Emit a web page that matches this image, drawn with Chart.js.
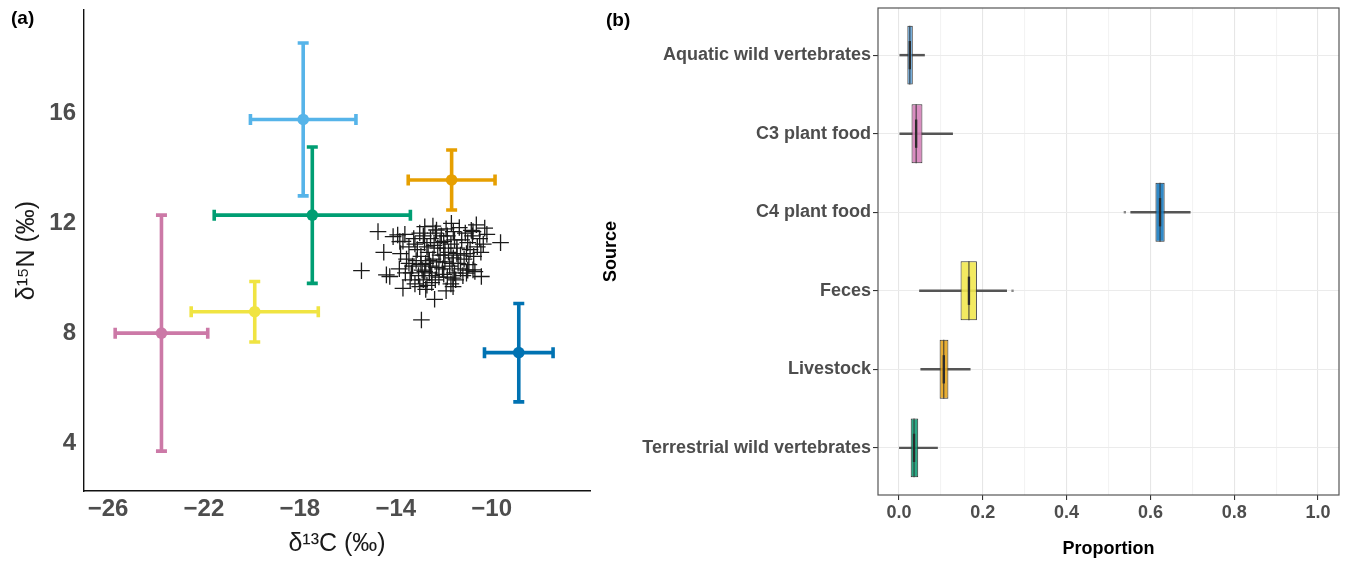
<!DOCTYPE html>
<html>
<head>
<meta charset="utf-8">
<script src="https://cdn.jsdelivr.net/npm/chart.js@4.4.1/dist/chart.umd.min.js"></script>
<style>
  html, body { margin: 0; padding: 0; background: #fff; }
  #wrap { position: relative; width: 1347px; height: 562px; }
  #left { position: absolute; left: 0; top: 0; width: 600px; height: 562px; }
  #right { position: absolute; left: 600px; top: 0; width: 747px; height: 562px; }
  .tag { position: absolute; font: bold 19px "Liberation Sans", Arial, sans-serif; color: #000; }
</style>
</head>
<body>
<div id="wrap">
  <div id="left"><canvas id="isoChart"></canvas></div>
  <div id="right"><canvas id="mixChart"></canvas></div>
  <div class="tag" style="left:11px; top:7px">(a)</div>
  <div class="tag" style="left:606px; top:9px">(b)</div>
</div>
<script>
// sources (same order in both panels)
const sourceNames = ["Aquatic wild vertebrates", "C3 plant food", "C4 plant food", "Feces", "Livestock", "Terrestrial wild vertebrates"];
const sourceColors = ["#56B4E9", "#CC79A7", "#0072B2", "#F0E442", "#E69F00", "#009E73"];
const boxColors = ["rgba(86,160,220,0.9)", "rgba(214,130,186,0.9)", "rgba(25,125,195,0.9)", "rgba(242,232,80,0.9)", "rgba(230,165,30,0.9)", "rgba(20,160,120,0.9)"];

// panel (a): source means and SDs
const srcC = [-17.86, -23.77, -8.87, -19.88, -11.67, -17.48];
const srcN = [15.78, 8.01, 7.30, 8.79, 13.58, 12.30];
const srcSdC = [2.20, 1.93, 1.43, 2.65, 1.81, 4.09];
const srcSdN = [2.78, 4.29, 1.79, 1.10, 1.09, 2.48];

// panel (a): consumers
const consC = [-14.74, -14.50, -15.43, -14.39, -14.25, -12.38, -12.93, -9.63, -10.43, -10.64,
  -10.29, -10.78, -11.68, -12.30, -12.79, -14.11, -13.83, -13.92, -13.70, -11.61,
  -11.61, -11.05, -10.78, -12.79, -13.62, -13.70, -13.45, -13.80, -13.55, -13.30,
  -13.60, -13.85, -13.40, -13.20, -13.05, -12.90, -12.75, -12.95, -13.10, -12.80,
  -12.55, -12.40, -12.65, -12.45, -12.30, -12.60, -12.85, -12.50, -12.20, -12.05,
  -11.95, -12.15, -12.25, -12.00, -11.85, -11.70, -11.80, -11.60, -11.75, -11.55,
  -11.40, -11.30, -11.45, -11.25, -11.10, -11.00, -10.90, -11.15, -10.95, -10.75,
  -10.60, -10.50, -10.80, -10.35, -10.45, -11.35, -11.90, -12.35, -12.85, -13.25,
  -13.15, -13.45, -13.00, -12.70, -11.70, -11.90, -11.50, -11.20, -10.70, -11.60,
  -12.10, -12.70, -12.20, -12.55, -12.00, -11.85, -12.35, -13.35, -13.00, -12.45,
  -11.95, -11.55, -11.05, -11.30, -12.15, -12.60, -13.20, -12.00, -11.65, -11.45,
  -10.85, -12.95, -12.50, -10.20, -11.00, -12.75];
const consN = [11.70, 10.95, 10.28, 10.13, 10.07, 9.24, 8.49, 11.30, 10.07, 11.95,
  11.83, 11.70, 12.00, 11.76, 11.88, 11.52, 11.34, 11.58, 9.64, 10.01,
  9.70, 10.19, 10.31, 10.25, 11.60, 11.35, 11.15, 10.90, 10.70, 10.45,
  10.20, 10.35, 9.95, 9.80, 10.10, 10.30, 10.55, 10.80, 11.05, 11.30,
  11.45, 11.20, 10.95, 10.70, 10.40, 10.20, 9.95, 9.85, 10.05, 10.35,
  10.60, 10.85, 11.10, 11.35, 11.55, 11.25, 10.95, 10.75, 10.45, 10.20,
  10.55, 10.85, 11.10, 11.40, 11.65, 11.30, 11.05, 10.70, 10.50, 10.80,
  11.15, 11.45, 11.55, 11.25, 10.95, 11.85, 11.80, 11.65, 11.55, 11.45,
  10.65, 10.55, 9.70, 9.75, 9.80, 9.55, 9.95, 10.10, 10.25, 11.70,
  11.55, 11.15, 10.60, 10.45, 10.15, 10.05, 9.95, 10.20, 11.65, 11.90,
  11.10, 11.40, 10.90, 10.35, 11.30, 10.65, 11.25, 10.85, 10.55, 10.90,
  11.75, 10.50, 10.10, 11.60, 10.30, 9.60];

const xTicksA = [-26, -22, -18, -14, -10];
const yTicksA = [4, 8, 12, 16];

// panel (b): proportion box plots
const whiskLo = [0.002, 0.002, 0.553, 0.049, 0.052, 0.001];
const boxLo = [0.020, 0.030, 0.612, 0.147, 0.097, 0.028];
const median = [0.026, 0.041, 0.623, 0.167, 0.107, 0.036];
const boxHi = [0.033, 0.056, 0.634, 0.186, 0.118, 0.046];
const whiskHi = [0.061, 0.128, 0.695, 0.257, 0.170, 0.092];
const outlierRow = [2, 3];
const outlierVal = [0.539, 0.271];
const xTicksB = [0, 0.1, 0.2, 0.3, 0.4, 0.5, 0.6, 0.7, 0.8, 0.9, 1.0];

const fontFam = '"Liberation Sans", Arial, sans-serif';

// error bars for the source means
const errorBars = {
  id: 'errorBars',
  beforeDatasetsDraw(chart) {
    const { ctx, scales: { x, y } } = chart;
    const cap = 5.5;
    ctx.save();
    ctx.lineWidth = 3.6;
    sourceNames.forEach((_, i) => {
      const cx = x.getPixelForValue(srcC[i]);
      const cy = y.getPixelForValue(srcN[i]);
      const x0 = x.getPixelForValue(srcC[i] - srcSdC[i]);
      const x1 = x.getPixelForValue(srcC[i] + srcSdC[i]);
      const y0 = y.getPixelForValue(srcN[i] - srcSdN[i]);
      const y1 = y.getPixelForValue(srcN[i] + srcSdN[i]);
      ctx.strokeStyle = sourceColors[i];
      ctx.beginPath();
      ctx.moveTo(x0, cy); ctx.lineTo(x1, cy);
      ctx.moveTo(x0, cy - cap); ctx.lineTo(x0, cy + cap);
      ctx.moveTo(x1, cy - cap); ctx.lineTo(x1, cy + cap);
      ctx.moveTo(cx, y0); ctx.lineTo(cx, y1);
      ctx.moveTo(cx - cap, y0); ctx.lineTo(cx + cap, y0);
      ctx.moveTo(cx - cap, y1); ctx.lineTo(cx + cap, y1);
      ctx.stroke();
    });
    ctx.restore();
  }
};

// keep the plot box where the fixed layout wants it
const noEdgePad = (s) => { s.paddingTop = 0; s.paddingBottom = 0; };

new Chart(document.getElementById('isoChart'), {
  type: 'scatter',
  data: {
    datasets: [
      {
        label: 'Sources',
        data: sourceNames.map((n, i) => ({ x: srcC[i], y: srcN[i] })),
        pointRadius: 5.8,
        pointBackgroundColor: sourceColors,
        pointBorderWidth: 0
      },
      {
        label: 'Consumers',
        data: consC.map((c, i) => ({ x: c, y: consN[i] })),
        pointStyle: 'cross',
        pointRadius: 8.3,
        pointBorderColor: '#1a1a1a',
        pointBorderWidth: 1.3
      }
    ]
  },
  options: {
    responsive: true,
    maintainAspectRatio: false,
    animation: false,
    layout: { padding: { top: 10, right: 10, left: 0, bottom: 0 } },
    plugins: { legend: { display: false }, tooltip: { enabled: false } },
    scales: {
      x: {
        type: 'linear',
        min: -27, max: -5.9,
        afterBuildTicks: (s) => { s.ticks = xTicksA.map(v => ({ value: v })); },
        afterFit: (s) => { s.height = 71; },
        grid: { display: false, drawTicks: false },
        border: { display: true, color: '#111', width: 1.4 },
        ticks: {
          padding: 4,
          color: '#4d4d4d',
          font: { family: fontFam, size: 24, weight: 'bold' },
          callback: (v) => (v < 0 ? '\u2212' + Math.abs(v) : String(v))
        },
        title: {
          display: true,
          text: 'δ¹³C (‰)',
          color: '#1a1a1a',
          font: { family: fontFam, size: 25 },
          padding: { bottom: 3 }
        }
      },
      y: {
        type: 'linear',
        min: 2.27, max: 19.76,
        afterBuildTicks: (s) => { s.ticks = yTicksA.map(v => ({ value: v })); },
        afterFit: (s) => { s.width = 84; noEdgePad(s); },
        grid: { display: false, drawTicks: false },
        border: { display: true, color: '#111', width: 1.4 },
        ticks: {
          padding: 8,
          color: '#4d4d4d',
          font: { family: fontFam, size: 24, weight: 'bold' }
        },
        title: {
          display: true,
          text: 'δ¹⁵N (‰)',
          color: '#1a1a1a',
          font: { family: fontFam, size: 25 },
          padding: { top: 12 }
        }
      }
    }
  },
  plugins: [errorBars]
});

// panel border for (b)
const panelBorder = {
  id: 'panelBorder',
  afterDraw(chart) {
    const { ctx, chartArea: a } = chart;
    ctx.save();
    ctx.strokeStyle = '#555';
    ctx.lineWidth = 1.2;
    ctx.strokeRect(a.left, a.top, a.right - a.left, a.bottom - a.top);
    ctx.restore();
  }
};

const rows = sourceNames.map((n, i) => i);
const isMajor = (v) => Math.round(v * 10) % 2 === 0;

new Chart(document.getElementById('mixChart'), {
  type: 'bar',
  data: {
    datasets: [
      {
        label: 'Median core',
        data: rows.map(i => ({ y: i, x: [median[i] - 0.0028, median[i] + 0.0028] })),
        backgroundColor: '#2b2b2b',
        barPercentage: 0.36, categoryPercentage: 1, grouped: false, order: 0
      },
      {
        label: 'Median',
        data: rows.map(i => ({ y: i, x: [median[i] - 0.0012, median[i] + 0.0012] })),
        backgroundColor: '#333',
        barPercentage: 0.75, categoryPercentage: 1, grouped: false, order: 1
      },
      {
        label: 'Box',
        data: rows.map(i => ({ y: i, x: [boxLo[i], boxHi[i]] })),
        backgroundColor: boxColors,
        borderColor: '#333',
        borderWidth: 1,
        borderSkipped: false,
        barPercentage: 0.75, categoryPercentage: 1, grouped: false, order: 2
      },
      {
        label: 'Whisker',
        data: rows.map(i => ({ y: i, x: [whiskLo[i], whiskHi[i]] })),
        backgroundColor: '#555',
        barThickness: 1.8, grouped: false, order: 3
      },
      {
        label: 'Outlier',
        data: outlierRow.map((r, k) => ({ y: r, x: [outlierVal[k] - 0.002, outlierVal[k] + 0.002] })),
        backgroundColor: '#888',
        barThickness: 1.8, grouped: false, order: 4
      }
    ]
  },
  options: {
    indexAxis: 'y',
    responsive: true,
    maintainAspectRatio: false,
    animation: false,
    layout: { padding: { top: 8, right: 8, left: 0, bottom: 0 } },
    plugins: { legend: { display: false }, tooltip: { enabled: false } },
    scales: {
      x: {
        type: 'linear',
        min: -0.05, max: 1.05,
        afterBuildTicks: (s) => { s.ticks = xTicksB.map(v => ({ value: v })); },
        afterFit: (s) => { s.height = 67; },
        grid: {
          color: (c) => (isMajor(c.tick.value) ? '#e6e6e6' : '#f3f3f3'),
          tickColor: (c) => (isMajor(c.tick.value) ? '#333' : 'rgba(0,0,0,0)'),
          tickLength: 5,
          lineWidth: 1.1
        },
        border: { display: false },
        ticks: {
          padding: 2,
          color: '#4d4d4d',
          autoSkip: false,
          maxRotation: 0,
          font: { family: fontFam, size: 18, weight: 'bold' },
          callback: (v) => (isMajor(v) ? v.toFixed(1) : '')
        },
        title: {
          display: true,
          text: 'Proportion',
          color: '#000',
          font: { family: fontFam, size: 18, weight: 'bold' },
          padding: { bottom: 2 }
        }
      },
      y: {
        type: 'linear',
        min: -0.6, max: 5.6,
        reverse: true,
        offset: false,
        afterBuildTicks: (s) => { s.ticks = rows.map(v => ({ value: v })); },
        afterFit: (s) => { s.width = 278; noEdgePad(s); },
        grid: { offset: false, color: '#ebebeb', tickColor: '#333', tickLength: 5, lineWidth: 1.1 },
        border: { display: false },
        ticks: {
          padding: 2,
          autoSkip: false,
          color: '#4d4d4d',
          font: { family: fontFam, size: 18, weight: 'bold' },
          callback: (v) => sourceNames[v]
        },
        title: {
          display: true,
          text: 'Source',
          color: '#000',
          font: { family: fontFam, size: 18, weight: 'bold' },
          padding: { top: 0 }
        }
      }
    }
  },
  plugins: [panelBorder]
});
</script>
</body>
</html>
